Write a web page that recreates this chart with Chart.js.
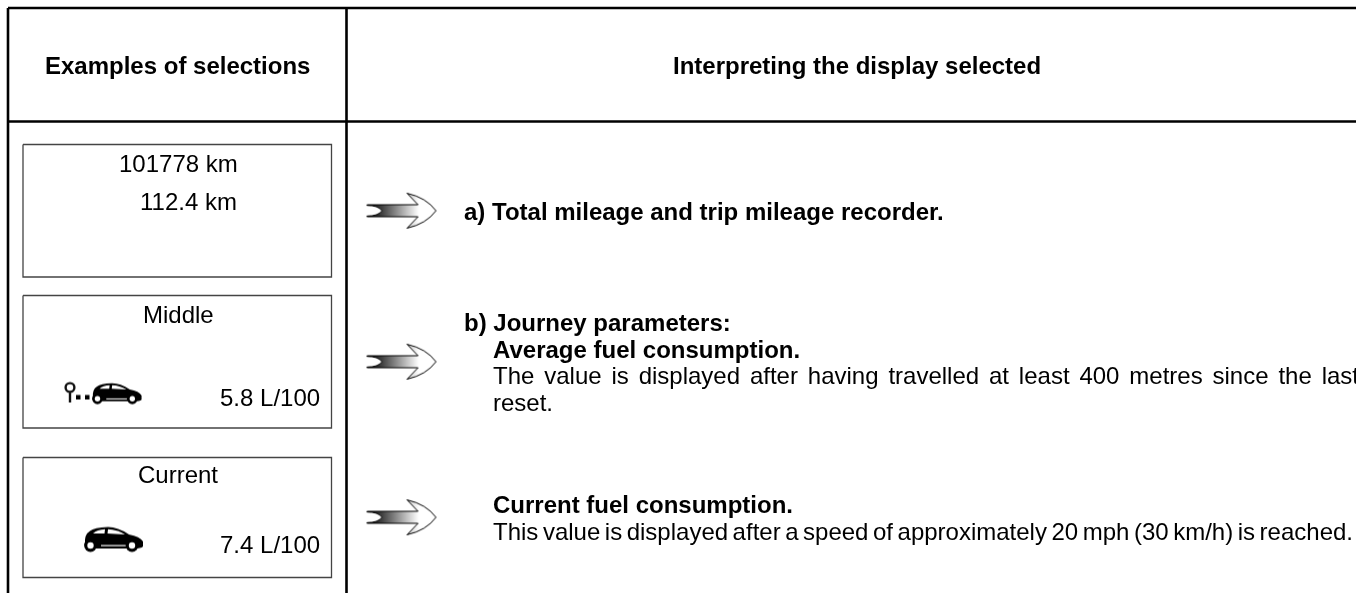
<!DOCTYPE html>
<html>
<head>
<meta charset="utf-8">
<title>Examples of selections</title>
<script src="https://cdn.jsdelivr.net/npm/chart.js@4"></script>
<style>
  html, body { margin: 0; padding: 0; background: #fff; overflow: hidden; }
  canvas { display: block; }
</style>
</head>
<body>
<canvas id="table" width="1356" height="593"></canvas>
<script>
// the source is a table, so the x/y scales just run in page units
const pageWidth = 1356;
const pageHeight = 593;

// table rules: [x1, y1, x2, y2]
const tableRules = [
  [8, 8, 1356, 8],
  [8, 121.5, 1356, 121.5],
  [8, 8, 8, 593],
  [346.5, 8, 346.5, 593]
];

// display boxes in the left column
const boxLeft = [23, 23, 23];
const boxRight = [331.5, 331.5, 331.5];
const boxTop = [144.5, 295.5, 457.5];
const boxBottom = [277, 428, 577.5];

const arrowX = [401.5, 401.5, 401.5];
const arrowY = [210.7, 361.7, 517.3];

const iconX = [102, 114];
const iconY = [392.5, 538.5];

// texts
const labelTexts = [
  "Examples of selections",
  "Interpreting the display selected",
  "101778 km",
  "112.4 km",
  "Middle",
  "5.8 L/100",
  "Current",
  "7.4 L/100",
  "a) Total mileage and trip mileage recorder.",
  "b) Journey parameters:",
  "Average fuel consumption.",
  "The value is displayed after having travelled at least 400 metres since the last",
  "reset.",
  "Current fuel consumption.",
  "This value is displayed after a speed of approximately 20 mph (30 km/h) is reached."
];
const labelX = [45, 673, 119, 140, 143, 220, 138, 220, 464, 464, 493, 493, 493, 493, 493];
const labelY = [74, 74, 172, 210, 323, 406, 483, 553, 220, 331, 357.5, 384, 411, 513, 540];
const labelBold = [1, 1, 0, 0, 0, 0, 0, 0, 1, 1, 1, 0, 0, 1, 0];
// only the justified lines get stretched to a width
const labelFit = [0, 0, 0, 0, 0, 0, 0, 0, 0, 0, 0, 866, 0, 0, 860];

function makeArrow() {
  const c = document.createElement("canvas");
  c.width = 74;
  c.height = 42;
  const g = c.getContext("2d");
  const grad = g.createLinearGradient(3, 0, 54, 0);
  grad.addColorStop(0, "#000");
  grad.addColorStop(0.3, "#444");
  grad.addColorStop(1, "#fff");
  g.beginPath();
  g.moveTo(2.5, 15.7);
  g.quadraticCurveTo(14, 15.7, 17.5, 21);
  g.quadraticCurveTo(14, 26.3, 2.5, 26.3);
  g.lineTo(2.5, 27);
  g.lineTo(53.5, 27);
  g.lineTo(42.5, 38.5);
  g.quadraticCurveTo(62, 34, 71.5, 21);
  g.quadraticCurveTo(62, 8, 42.5, 3.5);
  g.lineTo(53.5, 15);
  g.lineTo(2.5, 15);
  g.closePath();
  g.fillStyle = grad;
  g.fill();
  g.lineWidth = 1;
  g.strokeStyle = "#000";
  g.stroke();
  return c;
}

// car drawn in a 60x26 box
function drawCar(g, x, y, s) {
  g.save();
  g.translate(x, y);
  g.scale(s, s);
  g.fillStyle = "#000";
  g.beginPath();
  g.moveTo(1, 19);
  g.quadraticCurveTo(0, 9, 6, 5.5);
  g.quadraticCurveTo(10, 2, 24, 1.5);
  g.quadraticCurveTo(34, 1.5, 45, 9);
  g.quadraticCurveTo(56, 11, 59, 16);
  g.lineTo(59, 21);
  g.quadraticCurveTo(57, 23, 50, 23);
  g.lineTo(10, 23);
  g.quadraticCurveTo(2, 23, 1, 19);
  g.closePath();
  g.fill();
  // windows
  g.fillStyle = "#fff";
  g.beginPath();
  g.moveTo(9, 8);
  g.quadraticCurveTo(13, 4.2, 21, 3.8);
  g.lineTo(20.5, 8);
  g.closePath();
  g.fill();
  g.beginPath();
  g.moveTo(24, 3.8);
  g.quadraticCurveTo(33, 4, 41, 9);
  g.lineTo(23.5, 8);
  g.closePath();
  g.fill();
  // sill and wheels
  g.fillRect(17, 19.5, 28, 1.2);
  [6, 47.5].forEach(function (wx) {
    g.beginPath();
    g.arc(wx + 0.5, 20, 6.4, 0, Math.PI * 2);
    g.fillStyle = "#000";
    g.fill();
    g.beginPath();
    g.arc(wx + 0.5, 20, 3.2, 0, Math.PI * 2);
    g.fillStyle = "#fff";
    g.fill();
  });
  g.restore();
}

function makeTripIcon() {
  const c = document.createElement("canvas");
  c.width = 84;
  c.height = 28;
  const g = c.getContext("2d");
  g.filter = "blur(0.5px)";
  // pin
  g.strokeStyle = "#111";
  g.lineWidth = 2.4;
  g.beginPath();
  g.arc(10, 9, 4.4, 0, Math.PI * 2);
  g.moveTo(10, 13);
  g.lineTo(10, 24);
  g.stroke();
  // dots
  g.fillStyle = "#000";
  g.fillRect(16, 16.5, 4.5, 4.5);
  g.fillRect(25, 16.5, 4.5, 4.5);
  drawCar(g, 32, 3.5, 0.84);
  return c;
}

function makeCurrentIcon() {
  const c = document.createElement("canvas");
  c.width = 66;
  c.height = 30;
  const g = c.getContext("2d");
  g.filter = "blur(0.5px)";
  drawCar(g, 3, 2, 1);
  return c;
}

const datasets = [];

tableRules.forEach(function (r) {
  datasets.push({
    type: "line",
    data: [{ x: r[0], y: r[1] }, { x: r[2], y: r[3] }],
    borderColor: "#000",
    borderWidth: 2.6,
    pointRadius: 0,
    clip: false
  });
});

boxLeft.forEach(function (l, i) {
  datasets.push({
    type: "line",
    data: [
      { x: l, y: boxTop[i] },
      { x: boxRight[i], y: boxTop[i] },
      { x: boxRight[i], y: boxBottom[i] },
      { x: l, y: boxBottom[i] },
      { x: l, y: boxTop[i] }
    ],
    borderColor: "#444",
    borderWidth: 1.3,
    pointRadius: 0,
    clip: false
  });
});

datasets.push({
  type: "scatter",
  data: arrowX.map(function (x, i) { return { x: x, y: arrowY[i] }; }),
  pointStyle: makeArrow(),
  pointRadius: 20,
  clip: false
});

datasets.push({
  type: "scatter",
  data: iconX.map(function (x, i) { return { x: x, y: iconY[i] }; }),
  pointStyle: [makeTripIcon(), makeCurrentIcon()],
  pointRadius: 14,
  clip: false
});

// draws the cell texts at scale positions
const cellText = {
  id: "cellText",
  afterDatasetsDraw(chart) {
    const ctx = chart.ctx;
    const sx = chart.scales.x;
    const sy = chart.scales.y;
    ctx.save();
    ctx.fillStyle = "#000";
    ctx.textBaseline = "alphabetic";
    labelTexts.forEach(function (t, i) {
      ctx.font = (labelBold[i] ? "bold " : "") + "24px 'Liberation Sans'";
      ctx.wordSpacing = "0px";
      if (labelFit[i]) {
        const gaps = t.split(" ").length - 1;
        ctx.wordSpacing = (labelFit[i] - ctx.measureText(t).width) / gaps + "px";
      }
      ctx.fillText(t, sx.getPixelForValue(labelX[i]), sy.getPixelForValue(labelY[i]));
    });
    ctx.restore();
  }
};

new Chart(document.getElementById("table").getContext("2d"), {
  type: "scatter",
  data: { datasets: datasets },
  plugins: [cellText],
  options: {
    responsive: false,
    animation: false,
    events: [],
    layout: { padding: 0, autoPadding: false },
    plugins: { legend: { display: false }, tooltip: { enabled: false }, title: { display: false } },
    scales: {
      x: { type: "linear", min: 0, max: pageWidth, display: false },
      y: { type: "linear", min: 0, max: pageHeight, reverse: true, display: false }
    }
  }
});
</script>
</body>
</html>
